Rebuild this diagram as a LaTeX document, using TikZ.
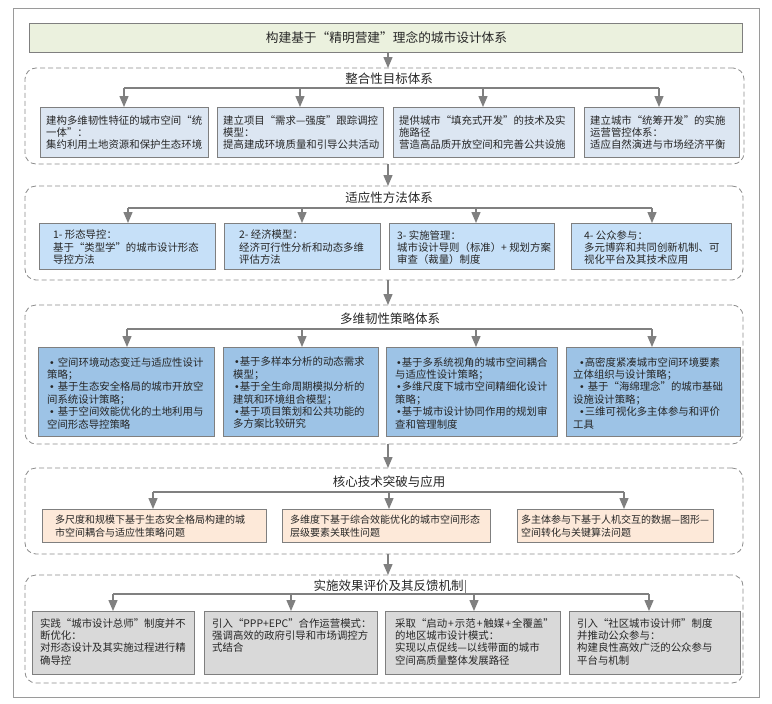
\documentclass[tikz,border=0pt]{standalone}
\usepackage{fontspec}
\setmainfont{Noto Sans CJK SC}
\newfontfamily\latinf{Liberation Sans}
\usetikzlibrary{arrows.meta,calc}
\definecolor{bordc}{HTML}{7F7F7F}
\definecolor{arrc}{HTML}{808080}
\definecolor{dashc}{HTML}{8C8C8C}
\definecolor{framec}{HTML}{9A9A9A}
\definecolor{txtc}{HTML}{262626}
\definecolor{ttlfill}{HTML}{EBF1DE}
\definecolor{fa}{HTML}{DCE6F2}
\definecolor{fb}{HTML}{C6E0F8}
\definecolor{fc}{HTML}{9DC3E6}
\definecolor{fd}{HTML}{FDE9D9}
\definecolor{fe}{HTML}{D9D9D9}
\newcommand\bul{{\latinf •}}
\tikzset{
 boxst/.style={draw=bordc,line width=0.9pt,anchor=north west,inner sep=0pt,outer sep=0pt},
 txtst/.style={anchor=north west,inner sep=0pt,align=left,text=txtc,font=\fontsize{10.4}{12.4}\selectfont},
 secst/.style={draw=dashc,dash pattern=on 5pt off 3pt,line width=0.8pt,rounded corners=11pt,anchor=north west,inner sep=0pt,outer sep=0pt},
 framest/.style={draw=framec,line width=1pt,anchor=north west,inner sep=0pt,outer sep=0pt},
 sttl/.style={text=txtc,font=\fontsize{12.5}{14}\selectfont,inner sep=0pt},
 arr/.style={draw=arrc,line width=1.3pt,-{Triangle[width=9pt,length=11pt]}},
 dist/.style={draw=arrc,line width=1.2pt},
}
% name, x1, y1, x2, y2, fill, text offset, text
\newcommand\mybox[8]{%
 \node[boxst,fill=#6,minimum width={#4-#2},minimum height={#5-#3}] (#1) at (#2,#3) {};
 \node[txtst] (#1t) at ([shift={(#7)}]#1.north west) {#8};}
\begin{document}
\begin{tikzpicture}[x=1pt,y=-1pt]
\useasboundingbox (0,0) rectangle (772,704);
\fill[white] (0,0) rectangle (772,704);
% outer frame
\node[framest,minimum width=746,minimum height=689] (outer) at (13,8) {};
% title
\node[boxst,fill=ttlfill,minimum width=713,minimum height=29] (title) at (29,23.3) {};
\node[text=txtc,font=\fontsize{12.7}{14}\selectfont,inner sep=0pt] (titlet) at (386.5,38) {构建基于“精明营建”理念的城市设计体系};
% sections
\node[secst,minimum width=719,minimum height=96] (s1) at (25,68) {};
\node[secst,minimum width=718,minimum height=94] (s2) at (25,186) {};
\node[secst,minimum width=718,minimum height=139] (s3) at (25,305) {};
\node[secst,minimum width=718,minimum height=86] (s4) at (25,468) {};
\node[secst,minimum width=718,minimum height=108] (s5) at (25,575) {};
\node[sttl] (s1t) at (389,79) {整合性目标体系};
\node[sttl] (s2t) at (389,198) {适应性方法体系};
\node[sttl] (s3t) at (390,319) {多维韧性策略体系};
\node[sttl] (s4t) at (389,482) {核心技术突破与应用};
\node[sttl] (s5t) at (388.5,586) {实施效果评价及其反馈机制};
% inter-section arrows
\coordinate (ax) at (388,0);
\draw[arr] (title.south -| ax) -- (s1.north -| ax);
\draw[arr] (s1.south -| ax) -- (s2.north -| ax);
\draw[arr] (s2.south -| ax) -- (s3.north -| ax);
\draw[arr] (s3.south -| ax) -- (s4.north -| ax);
\draw[arr] (s4.south -| ax) -- (s5.north -| ax);
% ---- section 1
\mybox{b11}{40}{107}{208}{157}{fa}{6,8}{建构多维韧性特征的城市空间“统\\一体”：\\集约利用土地资源和保护生态环境}
\mybox{b12}{217}{107}{383}{157}{fa}{6,8}{建立项目“需求—强度”跟踪调控\\模型：\\提高建成环境质量和引导公共活动}
\mybox{b13}{393}{107}{574}{157}{fa}{6,8}{提供城市“填充式开发”的技术及实\\施路径\\营造高品质开放空间和完善公共设施}
\mybox{b14}{584}{107}{739}{157}{fa}{6,8}{建立城市“统筹开发”的实施\\运营管控体系：\\适应自然演进与市场经济平衡}
% ---- section 2
\mybox{b21}{39}{223}{215}{269}{fb}{14,7}{1- 形态导控：\\基于“类型学”的城市设计形态\\导控方法}
\mybox{b22}{224}{223}{380}{269}{fb}{15,7}{2- 经济模型：\\经济可行性分析和动态多维\\评估方法}
\mybox{b23}{389}{223}{554}{269}{fb}{8,7}{3- 实施管理：\\城市设计导则（标准）+ 规划方案\\审查（裁量）制度}
\mybox{b24}{571}{223}{731}{269}{fb}{13,7}{4- 公众参与：\\多元博弈和共同创新机制、可\\视化平台及其技术应用}
% ---- section 3
\mybox{b31}{38}{347}{214}{436}{fc}{9,10}{\hspace*{3pt}\bul\hspace{4pt}空间环境动态变迁与适应性设计\\策略；\\\hspace*{3pt}\bul\hspace{4pt}基于生态安全格局的城市开放空\\间系统设计策略；\\\hspace*{3pt}\bul\hspace{4pt}基于空间效能优化的土地利用与\\空间形态导控策略}
\mybox{b32}{223}{347}{378}{436}{fc}{10,10}{\hspace*{2pt}\bul\hspace{1pt}基于多样本分析的动态需求\\模型；\\\hspace*{2pt}\bul\hspace{1pt}基于全生命周期模拟分析的\\建筑和环境组合模型；\\\hspace*{2pt}\bul\hspace{1pt}基于项目策划和公共功能的\\多方案比较研究}
\mybox{b33}{386}{347}{557}{436}{fc}{9,10}{\hspace*{2pt}\bul\hspace{1pt}基于多系统视角的城市空间耦合\\与适应性设计策略；\\\hspace*{2pt}\bul\hspace{1pt}多维尺度下城市空间精细化设计\\策略；\\\hspace*{2pt}\bul\hspace{1pt}基于城市设计协同作用的规划审\\查和管理制度}
\mybox{b34}{566}{347}{740}{436}{fc}{7,10}{\hspace*{7pt}\bul\hspace{1pt}高密度紧凑城市空间环境要素\\立体组织与设计策略；\\\hspace*{7pt}\bul\hspace{4pt}基于“海绵理念”的城市基础\\设施设计策略；\\\hspace*{7pt}\bul\hspace{1pt}三维可视化多主体参与和评价\\工具}
% ---- section 4
\mybox{b41}{42}{509}{266}{542}{fd}{13,6}{\fontsize{10}{12.4}\selectfont 多尺度和规模下基于生态安全格局构建的城\\\fontsize{10}{12.4}\selectfont 市空间耦合与适应性策略问题}
\mybox{b42}{282}{509}{490}{542}{fd}{8,6}{\fontsize{10}{12.4}\selectfont 多维度下基于综合效能优化的城市空间形态\\\fontsize{10}{12.4}\selectfont 层级要素关联性问题}
\mybox{b43}{517}{509}{713}{542}{fd}{4,6}{\fontsize{10}{12.4}\selectfont 多主体参与下基于人机交互的数据—图形—\\\fontsize{10}{12.4}\selectfont 空间转化与关键算法问题}
% ---- section 5
\mybox{b51}{32}{611}{194}{674}{fe}{8,7}{实践“城市设计总师”制度并不\\断优化：\\对形态设计及其实施过程进行精\\确导控}
\mybox{b52}{204}{611}{377}{674}{fe}{8,7}{引入“PPP+EPC”合作运营模式：\\强调高效的政府引导和市场调控方\\式结合}
\mybox{b53}{385}{611}{560}{674}{fe}{10,7}{采取“启动\kern1pt+\kern1pt示范\kern1pt+\kern1pt触媒\kern1pt+\kern1pt全覆盖”\\的地区城市设计模式：\\实现以点促线—以线带面的城市\\空间高质量整体发展路径}
\mybox{b54}{569}{611}{740}{674}{fe}{8,7}{引入“社区城市设计师”制度\\并推动公众参与：\\构建良性高效广泛的公众参与\\平台与机制}
% ---- distribution lines and arrows
% section 1
\coordinate (h1a) at (124,88); \coordinate (h1b) at (300,88);
\coordinate (h1c) at (483,88); \coordinate (h1d) at (659,88);
\draw[dist] (h1a) -- (h1d);
\draw[arr] (h1a) -- (h1a |- b11.north);
\draw[arr] (h1b) -- (h1b |- b12.north);
\draw[arr] (h1c) -- (h1c |- b13.north);
\draw[arr] (h1d) -- (h1d |- b14.north);
% section 2
\coordinate (h2a) at (128,208); \coordinate (h2b) at (302,208);
\coordinate (h2c) at (476,208); \coordinate (h2d) at (652,208);
\draw[dist] (h2a) -- (h2d);
\draw[arr] (h2a) -- (h2a |- b21.north);
\draw[arr] (h2b) -- (h2b |- b22.north);
\draw[arr] (h2c) -- (h2c |- b23.north);
\draw[arr] (h2d) -- (h2d |- b24.north);
% section 3
\coordinate (h3a) at (127,329); \coordinate (h3b) at (302,329);
\coordinate (h3c) at (476,329); \coordinate (h3d) at (652,329);
\draw[dist] (h3a) -- (h3d);
\draw[arr] (h3a) -- (h3a |- b31.north);
\draw[arr] (h3b) -- (h3b |- b32.north);
\draw[arr] (h3c) -- (h3c |- b33.north);
\draw[arr] (h3d) -- (h3d |- b34.north);
% section 4
\coordinate (h4a) at (153,492); \coordinate (h4b) at (389,492);
\coordinate (h4c) at (624,492);
\draw[dist] (h4a) -- (h4c);
\draw[arr] (h4a) -- (h4a |- b41.north);
\draw[arr] (h4b) -- (h4b |- b42.north);
\draw[arr] (h4c) -- (h4c |- b43.north);
% section 5
\coordinate (h5a) at (113,594); \coordinate (h5b) at (291,594);
\coordinate (h5c) at (474,594); \coordinate (h5d) at (649,594);
\draw[dist] (h5a) -- (h5d);
\draw[arr] (h5a) -- (h5a |- b51.north);
\draw[arr] (h5b) -- (h5b |- b52.north);
\draw[arr] (h5c) -- (h5c |- b53.north);
\draw[arr] (h5d) -- (h5d |- b54.north);
\coordinate (st5) at ([xshift=2pt]s5t.north east);
\draw[draw=arrc,line width=1pt] (st5) -- (st5 |- h5a);
\end{tikzpicture}
\end{document}
